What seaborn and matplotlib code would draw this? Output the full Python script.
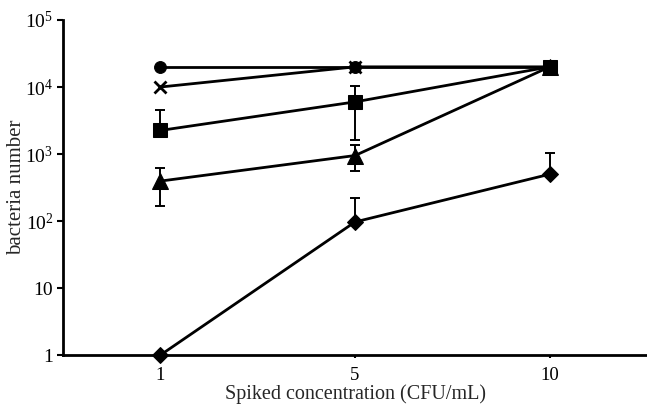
import numpy as np
import pandas as pd
import matplotlib
matplotlib.use("Agg")
import matplotlib.pyplot as plt
import seaborn as sns

# ---- data ----
concentrations = ["1", "5", "10"]
circle_vals = [20000, 20000, 20000]
cross_vals = [10000, 20000, 20000]
square_vals = [2250, 6000, 20000]
square_err = [2350, 4400, 0]
triangle_vals = [395, 950, 20000]
triangle_err = [230, 400, 0]
diamond_vals = [1, 97, 500]
diamond_err = [0, 126, 536]
ytick_vals = [1, 10, 100, 1000, 10000, 100000]
ytick_labels = ["1", "10", r"$\mathregular{10^{2}}$", r"$\mathregular{10^{3}}$",
                r"$\mathregular{10^{4}}$", r"$\mathregular{10^{5}}$"]

sns.set_style("ticks")
plt.rcParams["font.family"] = ["Liberation Serif", "DejaVu Serif"]
plt.rcParams["mathtext.fontset"] = "custom"
plt.rcParams["mathtext.rm"] = "Liberation Serif"

fig = plt.figure(figsize=(6.47, 4.04), dpi=100)
ax = fig.add_axes([0.0974, 0.121, 0.9026, 0.8295])

series = [
    ("diamond", diamond_vals, diamond_err, "D", 8.5, {}),
    ("triangle", triangle_vals, triangle_err, "^", 12, {}),
    ("cross", cross_vals, None, "x", 8, {"markeredgewidth": 2.0}),
    ("circle", circle_vals, None, "o", 8.5, {}),
    ("square", square_vals, square_err, "s", 9.5, {}),
]

# lines and markers first (this fixes category order on the x axis)
for name, vals, err, mk, ms, extra in series:
    df = pd.DataFrame({"conc": concentrations, "count": vals})
    sns.lineplot(data=df, x="conc", y="count", ax=ax, color="black",
                 linewidth=2.0, marker=mk, markersize=ms,
                 markerfacecolor="black", markeredgecolor="black",
                 sort=False, clip_on=False, zorder=3, **extra)

# error bars (only upper part when lower would go below zero)
for name, vals, err, mk, ms, extra in series:
    if err is None:
        continue
    xs = [c for c, e in zip(concentrations, err) if e > 0]
    ys = [v for v, e in zip(vals, err) if e > 0]
    up = [e for e in err if e > 0]
    lo = [0 if v - e <= 0 else e for v, e in zip(ys, up)]
    ax.errorbar(xs, ys, yerr=[lo, up], fmt="none",
                ecolor="black", elinewidth=1.4, capsize=3.5, capthick=1.4,
                zorder=2)

ax.set_yscale("log")
ax.set_ylim(1, 100000)
ax.set_xlim(-0.5, 2.5)
ax.set_yticks(ytick_vals)
ax.set_yticklabels(ytick_labels)
ax.yaxis.set_minor_locator(matplotlib.ticker.NullLocator())

for s in ["top", "right"]:
    ax.spines[s].set_visible(False)
for s in ["left", "bottom"]:
    ax.spines[s].set_linewidth(2.0)
    ax.spines[s].set_color("black")
ax.tick_params(axis="y", direction="out", length=4, width=1.5,
               labelsize=14, colors="black", pad=3)
ax.tick_params(axis="x", direction="out", length=2.5, width=1.5,
               labelsize=13.5, colors="black", pad=6)

ax.set_xlabel("Spiked concentration (CFU/mL)", fontsize=14.5, labelpad=0.5)
ax.set_ylabel("bacteria number", fontsize=15, labelpad=-1)
if ax.get_legend() is not None:
    ax.get_legend().remove()

fig.savefig("out.png", dpi=100)
